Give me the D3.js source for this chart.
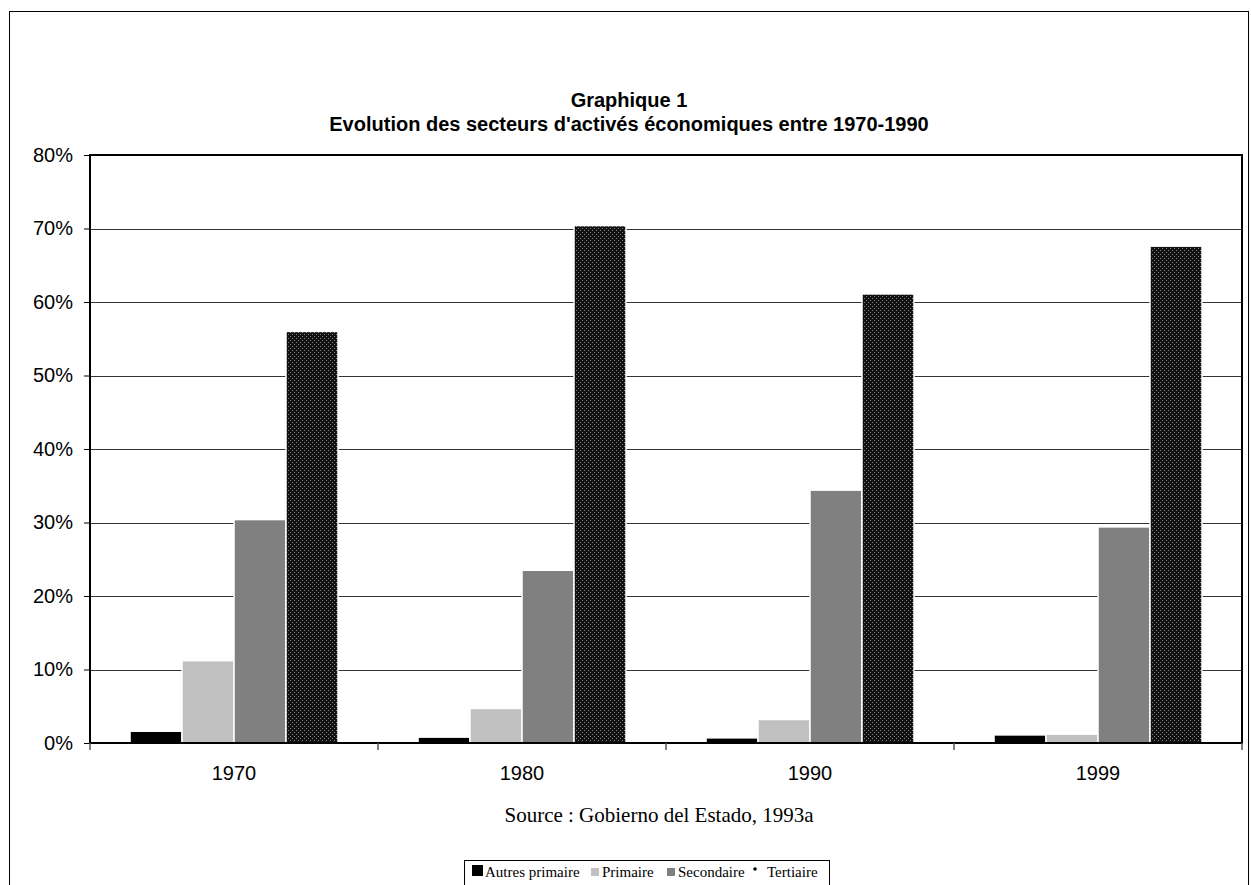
<!DOCTYPE html>
<html>
<head>
<meta charset="utf-8">
<script src="https://cdn.jsdelivr.net/npm/d3@7"></script>
<style>
  body { margin: 0; background: #fff; }
  svg { display: block; }
</style>
</head>
<body>
<svg id="chart" width="1251" height="885"></svg>
<script>
const years = ["1970", "1980", "1990", "1999"];
const seriesNames = ["Autres primaire", "Primaire", "Secondaire", "Tertiaire"];
const autresPrimaire = [1.6, 0.8, 0.7, 1.1];
const primaire = [11.2, 4.7, 3.2, 1.2];
const secondaire = [30.4, 23.5, 34.4, 29.4];
const tertiaire = [56.0, 70.4, 61.1, 67.6];
const yTicks = [0, 10, 20, 30, 40, 50, 60, 70, 80];

const seriesValues = [autresPrimaire, primaire, secondaire, tertiaire];
const colors = ["#000000", "#c0c0c0", "#808080", "url(#dots)"];

const svg = d3.select("#chart");
const plot = { left: 90, top: 155, right: 1242, bottom: 743 };
const sans = "Arial, 'Liberation Sans', sans-serif";
const serif = "'Times New Roman', 'Liberation Serif', serif";

// dotted pattern for tertiaire
const defs = svg.append("defs");
const pat = defs.append("pattern")
  .attr("id", "dots")
  .attr("patternUnits", "userSpaceOnUse")
  .attr("width", 4).attr("height", 4);
pat.append("rect").attr("width", 4).attr("height", 4).attr("fill", "#111");
pat.append("rect").attr("x", 0).attr("y", 0).attr("width", 1).attr("height", 1).attr("fill", "#8a8a8a");
pat.append("rect").attr("x", 2).attr("y", 2).attr("width", 1).attr("height", 1).attr("fill", "#8a8a8a");

// outer frame
svg.append("rect")
  .attr("x", 9.5).attr("y", 11.5)
  .attr("width", 1239).attr("height", 890)
  .attr("fill", "none").attr("stroke", "#000").attr("stroke-width", 1);

// title
const title = svg.append("text")
  .attr("text-anchor", "middle")
  .attr("font-family", sans)
  .attr("font-weight", "bold")
  .attr("font-size", "20px");
title.append("tspan").attr("x", 629).attr("y", 107).text("Graphique 1");
title.append("tspan").attr("x", 629).attr("y", 131).text("Evolution des secteurs d'activés économiques entre 1970-1990");

const yScale = d3.scaleLinear().domain([0, 80]).range([plot.bottom, plot.top]);
const xScale = d3.scaleBand().domain(years).range([plot.left, plot.right]).padding(0);
const inner = d3.scaleBand().domain(seriesNames)
  .range([0, xScale.bandwidth()])
  .paddingInner(0).paddingOuter(0.77);

// gridlines
svg.append("g")
  .selectAll("line")
  .data(yTicks.filter(d => d > 0 && d < 80))
  .join("line")
  .attr("x1", plot.left).attr("x2", plot.right)
  .attr("y1", d => Math.round(yScale(d)) + 0.5)
  .attr("y2", d => Math.round(yScale(d)) + 0.5)
  .attr("stroke", "#333").attr("stroke-width", 1);

// bars
const groups = svg.append("g")
  .selectAll("g")
  .data(years)
  .join("g")
  .attr("transform", d => `translate(${xScale(d)},0)`);

groups.selectAll("rect")
  .data((y, i) => seriesNames.map((s, j) => ({ s, v: seriesValues[j][i], c: colors[j] })))
  .join("rect")
  .attr("x", d => inner(d.s))
  .attr("width", inner.bandwidth())
  .attr("y", d => yScale(d.v))
  .attr("height", d => plot.bottom - yScale(d.v))
  .attr("fill", d => d.c)
  .attr("stroke", "#fff")
  .attr("stroke-width", 1.5);

// plot frame
svg.append("rect")
  .attr("x", plot.left).attr("y", plot.top)
  .attr("width", plot.right - plot.left).attr("height", plot.bottom - plot.top)
  .attr("fill", "none").attr("stroke", "#000").attr("stroke-width", 2);

// y axis
const yAxis = svg.append("g")
  .attr("transform", `translate(${plot.left},0)`)
  .call(d3.axisLeft(yScale).tickValues(yTicks).tickSize(6).tickPadding(11)
    .tickFormat(d => d + "%"));
yAxis.select(".domain").remove();
yAxis.selectAll("text")
  .attr("font-family", sans)
  .attr("font-size", "20px").attr("fill", "#000");
yAxis.selectAll("line").attr("stroke", "#000");

// x axis
const xAxis = svg.append("g")
  .attr("transform", `translate(0,${plot.bottom})`)
  .call(d3.axisBottom(xScale).tickSize(0).tickPadding(23));
xAxis.select(".domain").remove();
xAxis.selectAll("text")
  .attr("font-family", sans)
  .attr("font-size", "20px").attr("fill", "#000");

svg.append("g")
  .selectAll("line")
  .data(years.map(y => xScale(y)).concat([plot.right]))
  .join("line")
  .attr("x1", d => d).attr("x2", d => d)
  .attr("y1", plot.bottom).attr("y2", plot.bottom + 7)
  .attr("stroke", "#555").attr("stroke-width", 1.5);

// source
svg.append("text")
  .attr("x", 659).attr("y", 822)
  .attr("text-anchor", "middle")
  .attr("font-family", serif)
  .attr("font-size", "21px")
  .text("Source : Gobierno del Estado, 1993a");

// legend
const legend = svg.append("g");
legend.append("rect")
  .attr("x", 464.5).attr("y", 860.5)
  .attr("width", 365).attr("height", 40)
  .attr("fill", "#fff").attr("stroke", "#000").attr("stroke-width", 1);

const legendItems = [
  { name: seriesNames[0], x: 472, c: colors[0], size: 11 },
  { name: seriesNames[1], x: 591, c: colors[1], size: 8 },
  { name: seriesNames[2], x: 667, c: colors[2], size: 8 },
  { name: seriesNames[3], x: 753, c: "#000", size: 0 }
];
const li = legend.selectAll("g.item")
  .data(legendItems)
  .join("g").attr("class", "item");
li.filter(d => d.size > 0).append("rect")
  .attr("x", d => d.x)
  .attr("y", d => 876 - d.size)
  .attr("width", d => d.size).attr("height", d => d.size)
  .attr("fill", d => d.c);
li.filter(d => d.size === 0).append("circle")
  .attr("cx", d => d.x + 2).attr("cy", 869).attr("r", 1.8).attr("fill", "#000");
li.append("text")
  .attr("x", d => d.x + (d.size === 11 ? 13 : d.size === 8 ? 11 : 14))
  .attr("y", 877)
  .attr("font-family", serif)
  .attr("font-size", "15px")
  .text(d => d.name);
</script>
</body>
</html>
